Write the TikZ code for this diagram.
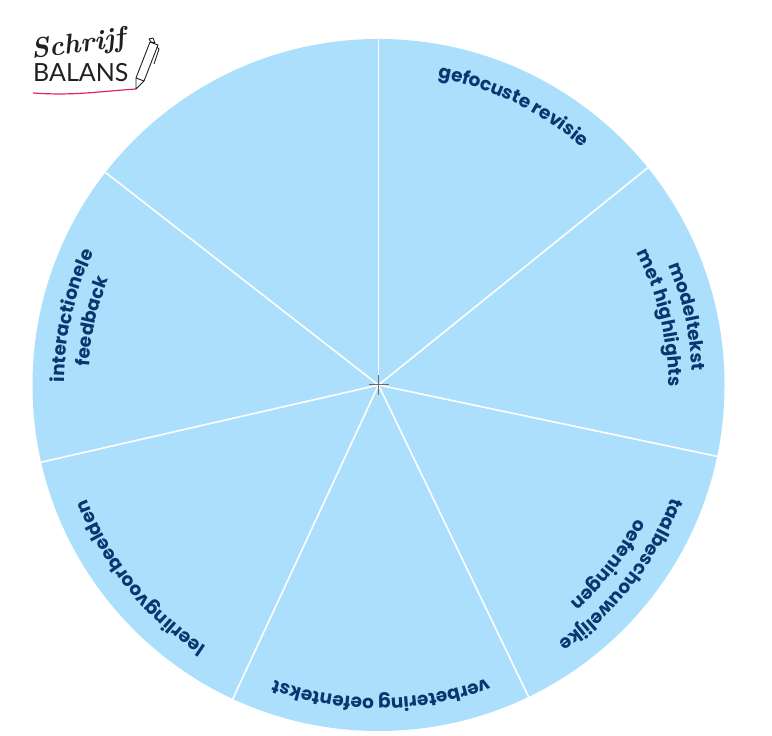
\documentclass[tikz,border=0pt]{standalone}
\usepackage{xcolor}
\usepackage{fontspec}
\usetikzlibrary{decorations.text}
\newfontfamily\wheelfont[Scale=1]{Poppins Bold}
\newfontfamily\logofont{Lato}
\definecolor{wheelblue}{HTML}{ABDFFB}
\definecolor{wheelink}{HTML}{07376F}
\definecolor{logopink}{HTML}{E5225F}
\definecolor{logoink}{HTML}{231F20}
\tikzset{
    spoke/.style = {draw=white, line width=1.6pt},
    penline/.style = {draw=logoink, line width=0.9pt, line join=round},
}
\newcommand{\wheellabel}[3]{%
    \path[decorate, decoration={text along path, text align=center,
        text={|\fontsize{18.5}{20}\wheelfont\color{wheelink}|#3}}]
        ($(hub)+({90-#1+70}:#2)$) arc[start angle={90-#1+70}, end angle={90-#1-70}, radius=#2];}
\usetikzlibrary{calc}
\begin{document}
\begin{tikzpicture}[x=1pt, y=1pt]
    \useasboundingbox (0,0) rectangle (772,736);
    \coordinate (hub) at (378.5,351);

    % wheel
    \fill[wheelblue] (hub) circle (346);
    \foreach \a in {90,38.9,-11.9,-64.3,-114.9,-167.1,142.1}
        \draw[spoke] (hub) -- ++(\a:346);
    \draw[gray!85!black, line width=1pt] ([xshift=-10]hub) -- ([xshift=10]hub);
    \draw[gray!85!black, line width=1pt] ([yshift=-10]hub) -- ([yshift=10]hub);

    % labels
    \wheellabel{25.8}{313}{gefocuste revisie}
    \wheellabel{77.5}{314}{modeltekst}
    \wheellabel{76.6}{290}{met highlights}
    \wheellabel{128}{314}{taalbeschouwelijke}
    \wheellabel{128}{290}{oefeningen}
    \wheellabel{179.5}{313}{verbetering oefentekst}
    \wheellabel{231}{313}{leerlingvoorbeelden}
    \wheellabel{282.7}{314}{interactionele}
    \wheellabel{282.6}{290}{feedback}

    % logo
    \node (schrijf) [anchor=base west, inner sep=0, rotate=8, font=\fontsize{28}{28}\bfseries\itshape, text=logoink] at (32,677) {Schrijf};
    \node (balans) [anchor=base west, inner sep=0, font=\fontsize{25}{25}\logofont, text=logoink] at (33,654) {BALANS};
    \coordinate (tip) at (136,647);
    \draw[logopink, line width=1.2pt] (33,643) to [out=-4, in=184] (tip);
    \draw[penline, fill=white] (tip) -- (136,658) -- (150,694) -- (158,691) -- (144,655) -- cycle;
    \draw[penline] (136,658) -- (144,655);
    \draw[penline, fill=white] (151,694) -- (149,697) -- (153,698) -- (155,693) -- cycle;
    \draw[penline] (157,689) -- (159,687) -- (154,672);
\end{tikzpicture}
\end{document}
